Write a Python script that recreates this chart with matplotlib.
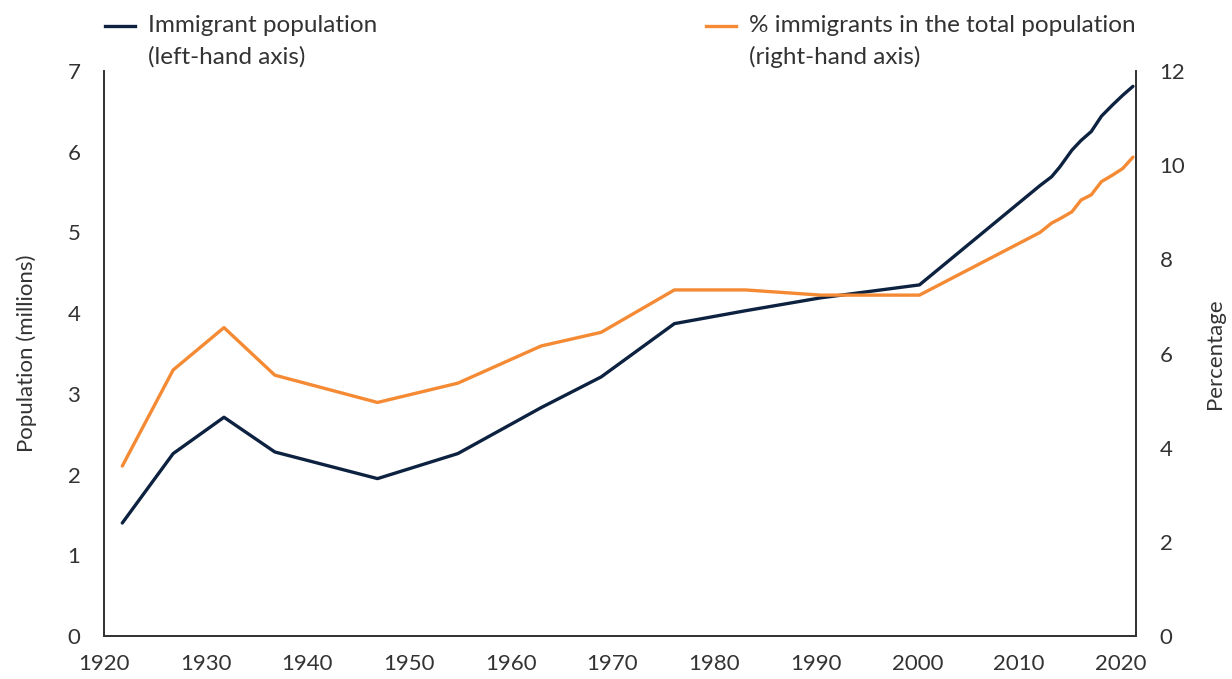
import matplotlib
matplotlib.use("Agg")
import matplotlib.pyplot as plt
from matplotlib.lines import Line2D

# values
years = [1921.8, 1926.8, 1931.8, 1936.8, 1946.9, 1954.8, 1963.0, 1968.9, 1976.1,
         1983.1, 1990.5, 2000.2, 2012.05, 2013.2, 2014.0, 2015.2, 2016.1, 2017.1,
         2018.1, 2019.2, 2020.2, 2021.2]
immigrants_m = [1.40, 2.26, 2.71, 2.28, 1.95, 2.26, 2.83, 3.21, 3.87, 4.03, 4.19,
                4.35, 5.58, 5.69, 5.81, 6.02, 6.14, 6.25, 6.44, 6.58, 6.70, 6.81]
share_pct = [3.61, 5.65, 6.55, 5.54, 4.96, 5.37, 6.16, 6.45, 7.35, 7.35, 7.24,
             7.24, 8.57, 8.77, 8.86, 9.01, 9.26, 9.37, 9.65, 9.79, 9.93, 10.17]

x_ticks = list(range(1920, 2021, 10))
left_ticks = list(range(0, 8))
right_ticks = list(range(0, 13, 2))

NAVY = "#0d2240"
ORANGE = "#f58a34"
TXT = "#333333"
SPINE = "#333333"

plt.rcParams["font.family"] = ["Lato", "DejaVu Sans"]

W, H = 1232, 679
fig = plt.figure(figsize=(W / 100, H / 100), dpi=100)
ax = fig.add_axes([104 / W, 1 - 636 / H, (1136 - 104) / W, (636 - 71) / H])
ax2 = ax.twinx()

ax.plot(years, immigrants_m, color=NAVY, lw=2.4, solid_capstyle="round", zorder=3)
ax2.plot(years, share_pct, color=ORANGE, lw=2.4, solid_capstyle="round", zorder=2)

ax.set_xlim(1920, 2021.5)
ax.set_ylim(0, 7)
ax2.set_ylim(0, 12)
ax.set_xticks(x_ticks)
ax.set_yticks(left_ticks)
ax2.set_yticks(right_ticks)

for a in (ax, ax2):
    a.spines["top"].set_visible(False)
    for s in ("left", "right", "bottom"):
        a.spines[s].set_color(SPINE)
        a.spines[s].set_linewidth(1.3)
    a.tick_params(length=0, labelsize=16, colors=TXT)
ax.tick_params(axis="y", pad=17)
ax.tick_params(axis="x", pad=13)
ax2.tick_params(axis="y", pad=17)

ax.set_ylabel("Population (millions)", fontsize=16, color=TXT, labelpad=22)
ax2.set_ylabel("Percentage", fontsize=16, color=TXT, rotation=90, labelpad=14)

# legend drawn as figure text, two entries side by side
def legend_entry(x0, color, first, second):
    fig.add_artist(Line2D([x0 / W, (x0 + 30) / W], [1 - 26 / H] * 2,
                          color=color, lw=2.4, transform=fig.transFigure))
    fig.text((x0 + 43) / W, 1 - 25 / H, first, fontsize=17.5, color=TXT,
             va="center", ha="left")
    fig.text((x0 + 43) / W, 1 - 57 / H, second, fontsize=17.5, color=TXT,
             va="center", ha="left")

legend_entry(105, NAVY, "Immigrant population", "(left-hand axis)")
legend_entry(706, ORANGE, "% immigrants in the total population", "(right-hand axis)")

fig.savefig("out.png", dpi=100)
